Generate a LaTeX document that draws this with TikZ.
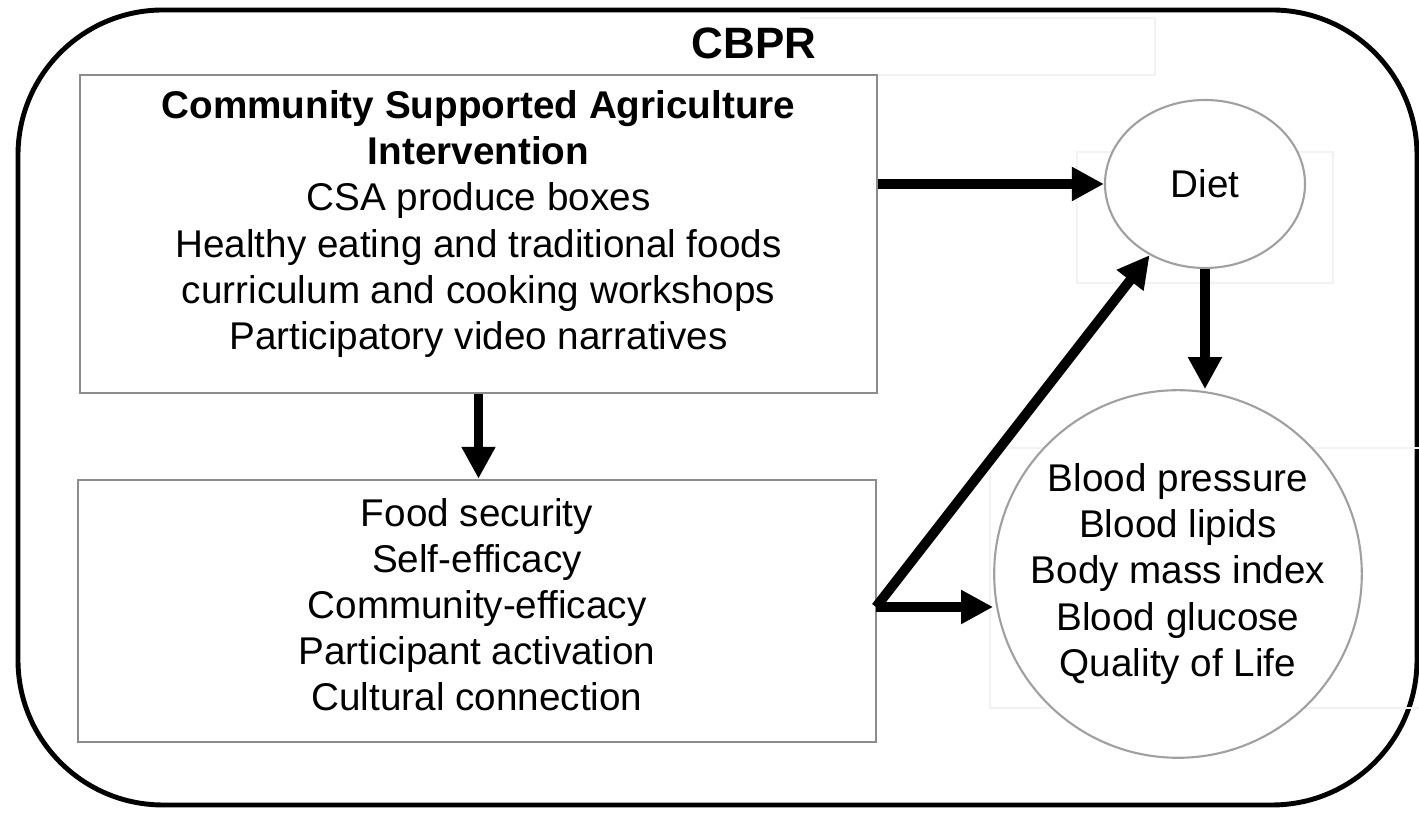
\documentclass[tikz,border=0pt]{standalone}
\usepackage{fontspec}
\setmainfont{Liberation Sans}
\usetikzlibrary{arrows.meta,shapes.geometric}
\definecolor{boxgray}{HTML}{8C8C8C}
\definecolor{ringgray}{HTML}{A0A0A0}
\definecolor{ghost}{HTML}{F2F2F2}
\begin{document}
\begin{tikzpicture}[
  every node/.style={font=\fontsize{11}{13.1}\selectfont},
  plainbox/.style={draw=boxgray, line width=0.7pt, fill=white, rectangle, inner sep=0pt},
  ring/.style={draw=ringgray, line width=0.6pt, fill=white, inner sep=0pt},
  link/.style={line width=2.8pt, -{Triangle[length=0.32cm, width=0.32cm]}},
  ghostbox/.style={draw=ghost, line width=0.6pt}
]
\useasboundingbox (0, 0) rectangle (14.19, 8.2);
\fill[white] (0, 0) rectangle (14.19, 8.2);
% outer frame
\draw[line width=1.4pt, rounded corners=1.45cm] (0.18, 8.10) rectangle (14.17, 0.15);
% faint frames left over behind the nodes
\draw[ghostbox] (8.0, 8.02) -- (11.55, 8.02) -- (11.55, 7.45) -- (8.77, 7.45);
\draw[ghostbox] (10.77, 6.68) rectangle (13.33, 5.37);
\draw[ghostbox] (9.90, 3.72) rectangle (14.30, 1.12);
\node[font=\fontsize{12.5}{15}\selectfont\bfseries] (cbpr) at (7.54, 7.77) {CBPR};
\node[plainbox, minimum width=7.97cm, minimum height=3.18cm] (csa) at (4.785, 5.86) {};
\node[align=center] (csatext) at (4.785, 5.96) {\textbf{Community Supported Agriculture}\\
  \textbf{Intervention}\\CSA produce boxes\\Healthy eating and traditional foods\\
  curriculum and cooking workshops\\Participatory video narratives};
\node[plainbox, minimum width=7.98cm, minimum height=2.62cm] (factors) at (4.77, 2.09) {};
\node[align=center] (factorstext) at (4.77, 2.15) {Food security\\Self-efficacy\\
  Community-efficacy\\Participant activation\\Cultural connection};
\node[ring, ellipse, minimum width=2.0cm, minimum height=1.68cm] (diet) at (12.05, 6.36) {Diet};
\node[ring, circle, minimum size=3.44cm, align=center] (health) at (11.78, 2.46)
  {Blood pressure\\Blood lipids\\Body mass index\\Blood glucose\\Quality of Life};
\coordinate (split) at (8.76, 2.13);
% arrows
\draw[link] (csa.east |- diet.west) -- (diet.west);
\draw[link] (csa.south) -- (csa.south |- factors.north);
\draw[link] (diet.south) -- (diet.south |- health.north);
\draw[link] (split) -- (diet);
\draw[link] (split) -- (split -| health.west);
\end{tikzpicture}
\end{document}
